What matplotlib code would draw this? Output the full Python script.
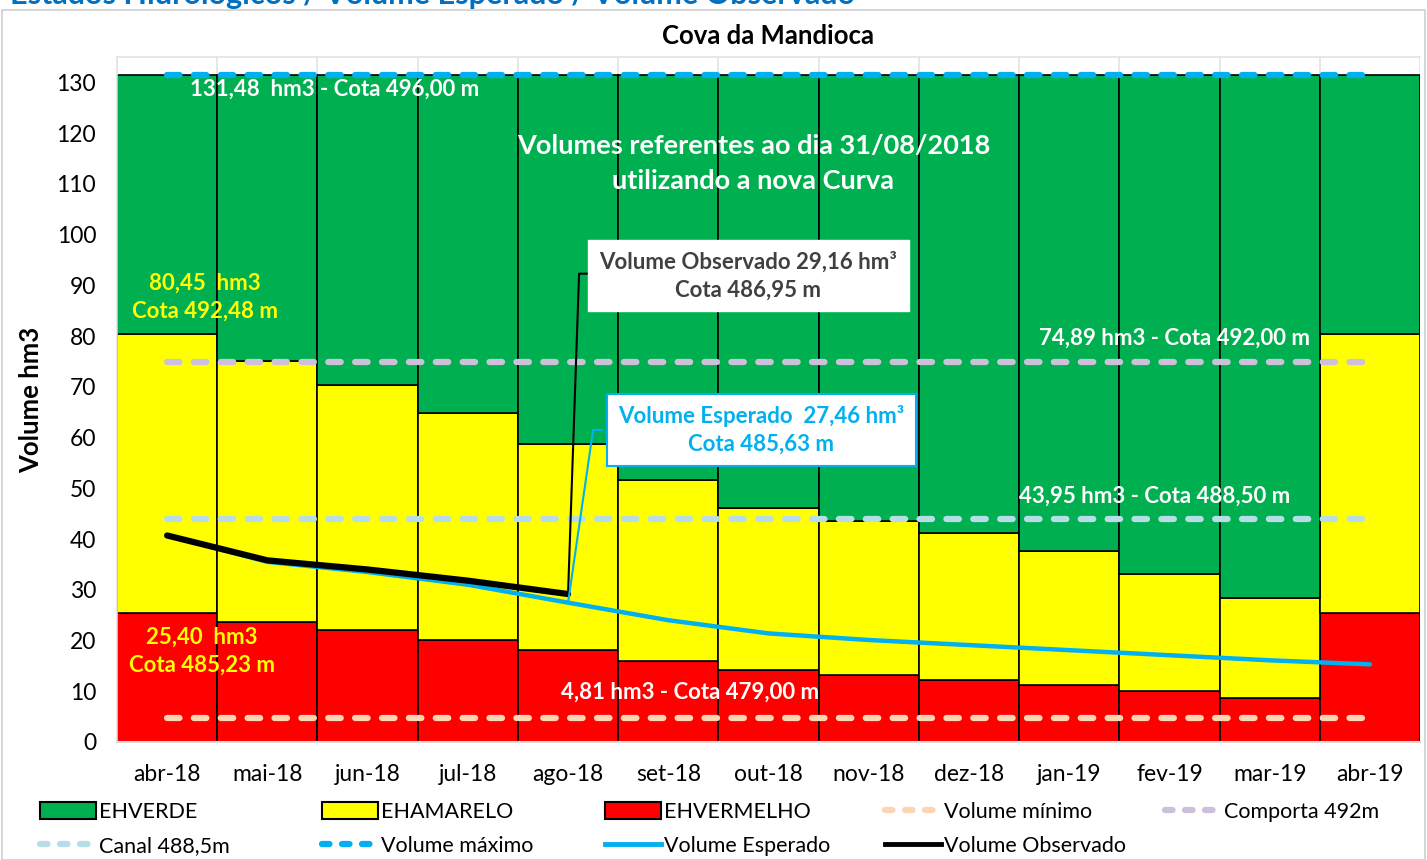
import matplotlib
matplotlib.use("Agg")
import matplotlib.pyplot as plt
import numpy as np
from matplotlib.patches import Patch, Rectangle
from matplotlib.lines import Line2D

plt.rcParams['font.family'] = ['Lato', 'DejaVu Sans']

# ---- data ----
months = ["abr-18", "mai-18", "jun-18", "jul-18", "ago-18", "set-18", "out-18",
          "nov-18", "dez-18", "jan-19", "fev-19", "mar-19", "abr-19"]
vermelho = [25.40, 23.6, 22.0, 20.1, 18.1, 15.9, 14.2, 13.2, 12.2, 11.2, 10.0, 8.7, 25.40]
amarelo_top = [80.45, 75.1, 70.4, 64.9, 58.8, 51.7, 46.2, 43.5, 41.1, 37.6, 33.2, 28.3, 80.45]
vol_max = 131.48
comporta = 74.89
canal = 43.95
vol_min = 4.81
esperado = [40.7, 35.5, 33.5, 31.0, 27.46, 24.0, 21.4, 20.1, 19.1, 18.1, 17.1, 16.1, 15.3]
observado = [40.7, 35.8, 34.0, 31.8, 29.16]

GREEN = "#00B050"
YELLOW = "#FFFF00"
RED = "#FF0000"
BLUE = "#00B0F0"

x = np.arange(len(months))
amarelo = [a - v for a, v in zip(amarelo_top, vermelho)]
verde = [vol_max - a for a in amarelo_top]

fig = plt.figure(figsize=(14.27, 8.6), dpi=100)
ax = fig.add_axes([117 / 1427, 1 - 742 / 860, (1420 - 117) / 1427, (742 - 57) / 860])

# outer chart border + cut-off page heading
fig.patches.append(Rectangle((2 / 1427, 0), 1423 / 1427, 1 - 10 / 860, transform=fig.transFigure,
                             fill=False, edgecolor="#D0D0D0", linewidth=1.2))
fig.text(10 / 1427, 1 - 4 / 860, "Estados Hidrológicos / Volume Esperado / Volume Observado",
         color="#0070C0", fontsize=22, fontweight="bold", va="baseline", ha="left")

ax.bar(x, vermelho, width=1.0, color=RED, edgecolor="black", linewidth=1.2, zorder=2)
ax.bar(x, amarelo, width=1.0, bottom=vermelho, color=YELLOW, edgecolor="black", linewidth=1.2, zorder=2)
ax.bar(x, verde, width=1.0, bottom=amarelo_top, color=GREEN, edgecolor="black", linewidth=1.2, zorder=2)

dash = dict(linewidth=4.5, dashes=(2, 2.3), dash_capstyle="round", zorder=3)
ax.plot([x[0], x[-1]], [vol_min, vol_min], color="#FCD5B4", **dash)
ax.plot([x[0], x[-1]], [canal, canal], color="#B7DEE8", **dash)
ax.plot([x[0], x[-1]], [comporta, comporta], color="#CCC0DA", **dash)
ax.plot([x[0], x[-1]], [vol_max, vol_max], color=BLUE, **dash)

ax.plot(x, esperado, color=BLUE, linewidth=3.2, zorder=4, solid_capstyle="round")
ax.plot(x[:len(observado)], observado, color="black", linewidth=4.5, zorder=5,
        solid_capstyle="round", solid_joinstyle="round")

ax.set_xlim(-0.5, len(months) - 0.5)
ax.set_ylim(0, 135)
ax.set_yticks(np.arange(0, 131, 10))
ax.set_xticks(x)
ax.set_xticklabels(months)
ax.set_xticks(np.arange(-0.5, len(months), 1.0), minor=True)
ax.grid(True, which="minor", axis="x", color="#E3E3E3", linewidth=1.2, zorder=0)
ax.set_axisbelow(True)
ax.tick_params(axis="both", which="both", length=0, labelsize=16.5, colors="black")
ax.tick_params(axis="x", pad=16)
ax.tick_params(axis="y", pad=15)
for s in ["top", "right", "left", "bottom"]:
    ax.spines[s].set_color("#E3E3E3")
    ax.spines[s].set_linewidth(1.2)
ax.spines["right"].set_visible(False)
ax.spines["bottom"].set_color("#D9D9D9")
ax.spines["bottom"].set_linewidth(1.5)

ax.set_title("Cova da Mandioca", fontsize=18.5, fontweight="bold", pad=9)
ax.set_ylabel("Volume hm3", fontsize=18.5, fontweight="bold", labelpad=10)

# text labels
wb = dict(color="white", fontweight="bold", fontsize=16, zorder=6)
yb = dict(color=YELLOW, fontweight="bold", fontsize=16, zorder=6, ha="center", linespacing=1.4)
ax.text(0.23, 128.6, "131,48  hm3 - Cota 496,00 m", ha="left", va="center", **wb)
ax.text(5.85, 114.0, "Volumes referentes ao dia 31/08/2018\nutilizando a nova Curva",
        ha="center", va="center", color="white", fontweight="bold", fontsize=19.5,
        linespacing=1.55, zorder=6)
ax.text(0.38, 87.6, "80,45  hm3\nCota 492,48 m", va="center", **yb)
ax.text(0.35, 17.9, "25,40  hm3\nCota 485,23 m", va="center", **yb)
ax.text(3.93, 9.9, "4,81 hm3 - Cota 479,00 m", ha="left", va="center", **wb)
ax.text(8.7, 79.5, "74,89 hm3 - Cota 492,00 m", ha="left", va="center", **wb)
ax.text(8.5, 48.5, "43,95 hm3 - Cota 488,50 m", ha="left", va="center", **wb)

# callout: observado
i = len(observado) - 1
ax.plot([x[i], x[i] + 0.11, x[i] + 0.21], [observado[i], 92.3, 92.3], color="black",
        linewidth=1.5, zorder=6)
ax.text(5.8, 91.9, "Volume Observado 29,16 hm³\nCota 486,95 m", ha="center", va="center",
        color="#404040", fontweight="bold", fontsize=16, linespacing=1.4, zorder=7,
        bbox=dict(boxstyle="square,pad=0.5", facecolor="white", edgecolor="white"))
# callout: esperado
ax.plot([x[4], x[4] + 0.25, x[4] + 0.34], [esperado[4], 61.5, 61.5], color=BLUE,
        linewidth=1.5, zorder=6)
ax.text(5.93, 61.5, "Volume Esperado  27,46 hm³\nCota 485,63 m", ha="center", va="center",
        color=BLUE, fontweight="bold", fontsize=16, linespacing=1.4, zorder=7,
        bbox=dict(boxstyle="square,pad=0.5", facecolor="white", edgecolor=BLUE, linewidth=1.5))

# legend, laid out in fixed columns
def lh(color, ls="-", lw=4.5):
    if ls == "--":
        return Line2D([], [], color=color, linewidth=lw, dashes=(1.2, 2.0), dash_capstyle="round")
    return Line2D([], [], color=color, linewidth=lw)

cols = [
    [(Patch(facecolor=GREEN, edgecolor="black", linewidth=1.5), "EHVERDE"),
     (lh("#B7DEE8", "--"), "Canal 488,5m")],
    [(Patch(facecolor=YELLOW, edgecolor="black", linewidth=1.5), "EHAMARELO"),
     (lh(BLUE, "--"), "Volume máximo")],
    [(Patch(facecolor=RED, edgecolor="black", linewidth=1.5), "EHVERMELHO"),
     (lh(BLUE, "-", 3.5), "Volume Esperado")],
    [(lh("#FCD5B4", "--"), "Volume mínimo"),
     (lh("black", "-", 3.5), "Volume Observado")],
    [(lh("#CCC0DA", "--"), "Comporta 492m")],
]
col_x = [40, 322, 605, 885, 1165]
for cx, items in zip(col_x, cols):
    fig.legend([h for h, _ in items], [t for _, t in items], loc="upper left",
               bbox_to_anchor=(cx / 1427, 1 - 802 / 860), frameon=False, fontsize=15.5,
               handlelength=2.6, handleheight=0.8, handletextpad=0.15, labelspacing=0.65,
               borderpad=0, borderaxespad=0)

fig.savefig("out.png", dpi=100)
